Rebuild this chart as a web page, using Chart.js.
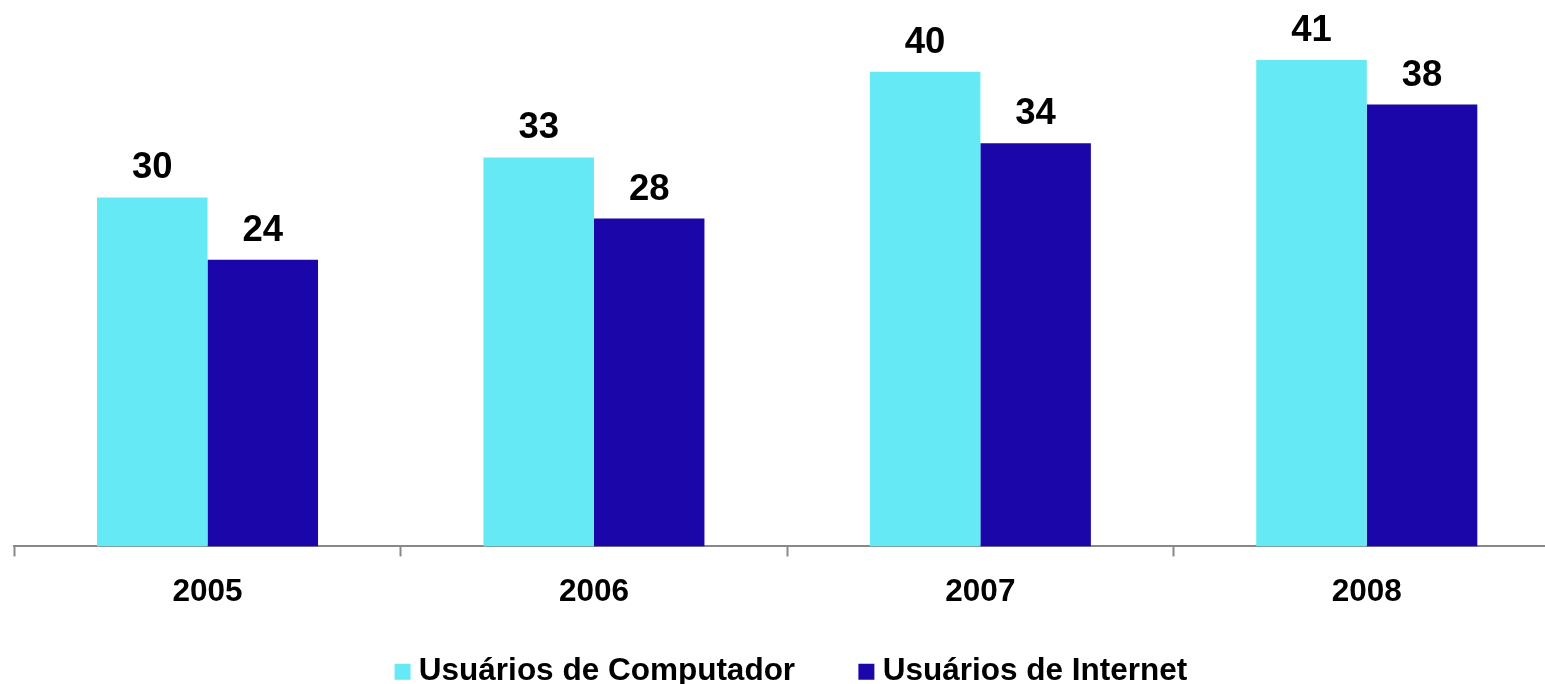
<!DOCTYPE html>
<html>
<head>
<meta charset="utf-8">
<script src="https://cdn.jsdelivr.net/npm/chart.js@4.4.1/dist/chart.umd.min.js"></script>
<style>
  html, body { margin: 0; padding: 0; background: #ffffff; overflow: hidden; }
  #wrap { position: relative; width: 1575px; height: 684px; }
</style>
</head>
<body>
<div id="wrap"><canvas id="c"></canvas></div>
<script>
const categories = ['2005', '2006', '2007', '2008'];
const seriesNames = ['Usuários de Computador', 'Usuários de Internet'];
const computerUsers = [29.7, 33.1, 40.4, 41.4];
const internetUsers = [24.4, 27.9, 34.3, 37.6];
const colors = ['#65E9F5', '#1B07A9'];

const FONT = "'Liberation Sans', Arial, Helvetica, sans-serif";

const valueLabels = {
  id: 'valueLabels',
  afterDatasetsDraw(chart) {
    const ctx = chart.ctx;
    ctx.save();
    ctx.font = 'bold 36.5px ' + FONT;
    ctx.fillStyle = '#000000';
    ctx.textAlign = 'center';
    ctx.textBaseline = 'alphabetic';
    chart.data.datasets.forEach((ds, di) => {
      const meta = chart.getDatasetMeta(di);
      meta.data.forEach((bar, i) => {
        ctx.fillText(String(Math.round(ds.data[i])), bar.x, bar.y - 19);
      });
    });
    ctx.restore();
  }
};

new Chart(document.getElementById('c'), {
  type: 'bar',
  data: {
    labels: categories,
    datasets: [
      { label: seriesNames[0], data: computerUsers, backgroundColor: colors[0], borderWidth: 0 },
      { label: seriesNames[1], data: internetUsers, backgroundColor: colors[1], borderWidth: 0 }
    ]
  },
  options: {
    responsive: true,
    maintainAspectRatio: false,
    animation: false,
    layout: { padding: { left: 14.3, right: 0, top: 0, bottom: -13.5 } },
    datasets: { bar: { categoryPercentage: 0.572, barPercentage: 1.0 } },
    scales: {
      x: {
        grid: {
          display: true,
          drawOnChartArea: false,
          drawTicks: true,
          tickLength: 10,
          tickColor: '#888888',
          tickWidth: 2
        },
        border: { display: true, color: '#888888', width: 2 },
        ticks: {
          color: '#000000',
          padding: 17.4,
          font: { family: FONT, size: 31.5, weight: 'bold' }
        }
      },
      y: {
        display: true,
        position: 'right',
        min: 0,
        max: 46.5,
        grid: { display: false },
        border: { display: false },
        ticks: { display: false },
        afterFit(scale) { scale.width = 15; }
      }
    },
    plugins: {
      tooltip: { enabled: false },
      legend: {
        position: 'bottom',
        labels: {
          usePointStyle: true,
          pointStyle: 'rect',
          boxWidth: 1,
          boxHeight: 16,
          padding: 27,
          color: '#000000',
          font: { family: FONT, size: 31.5, weight: 'bold' },
          generateLabels(chart) {
            const items = Chart.defaults.plugins.legend.labels.generateLabels(chart);
            items.forEach((it, i) => {
              it.pointStyle = 'rect';
              it.lineWidth = 0;
              if (i === 0) it.text = it.text + '\u00A0\u00A0\u00A0\u00A0\u00A0';
            });
            return items;
          }
        }
      }
    }
  },
  plugins: [valueLabels]
});
</script>
</body>
</html>
